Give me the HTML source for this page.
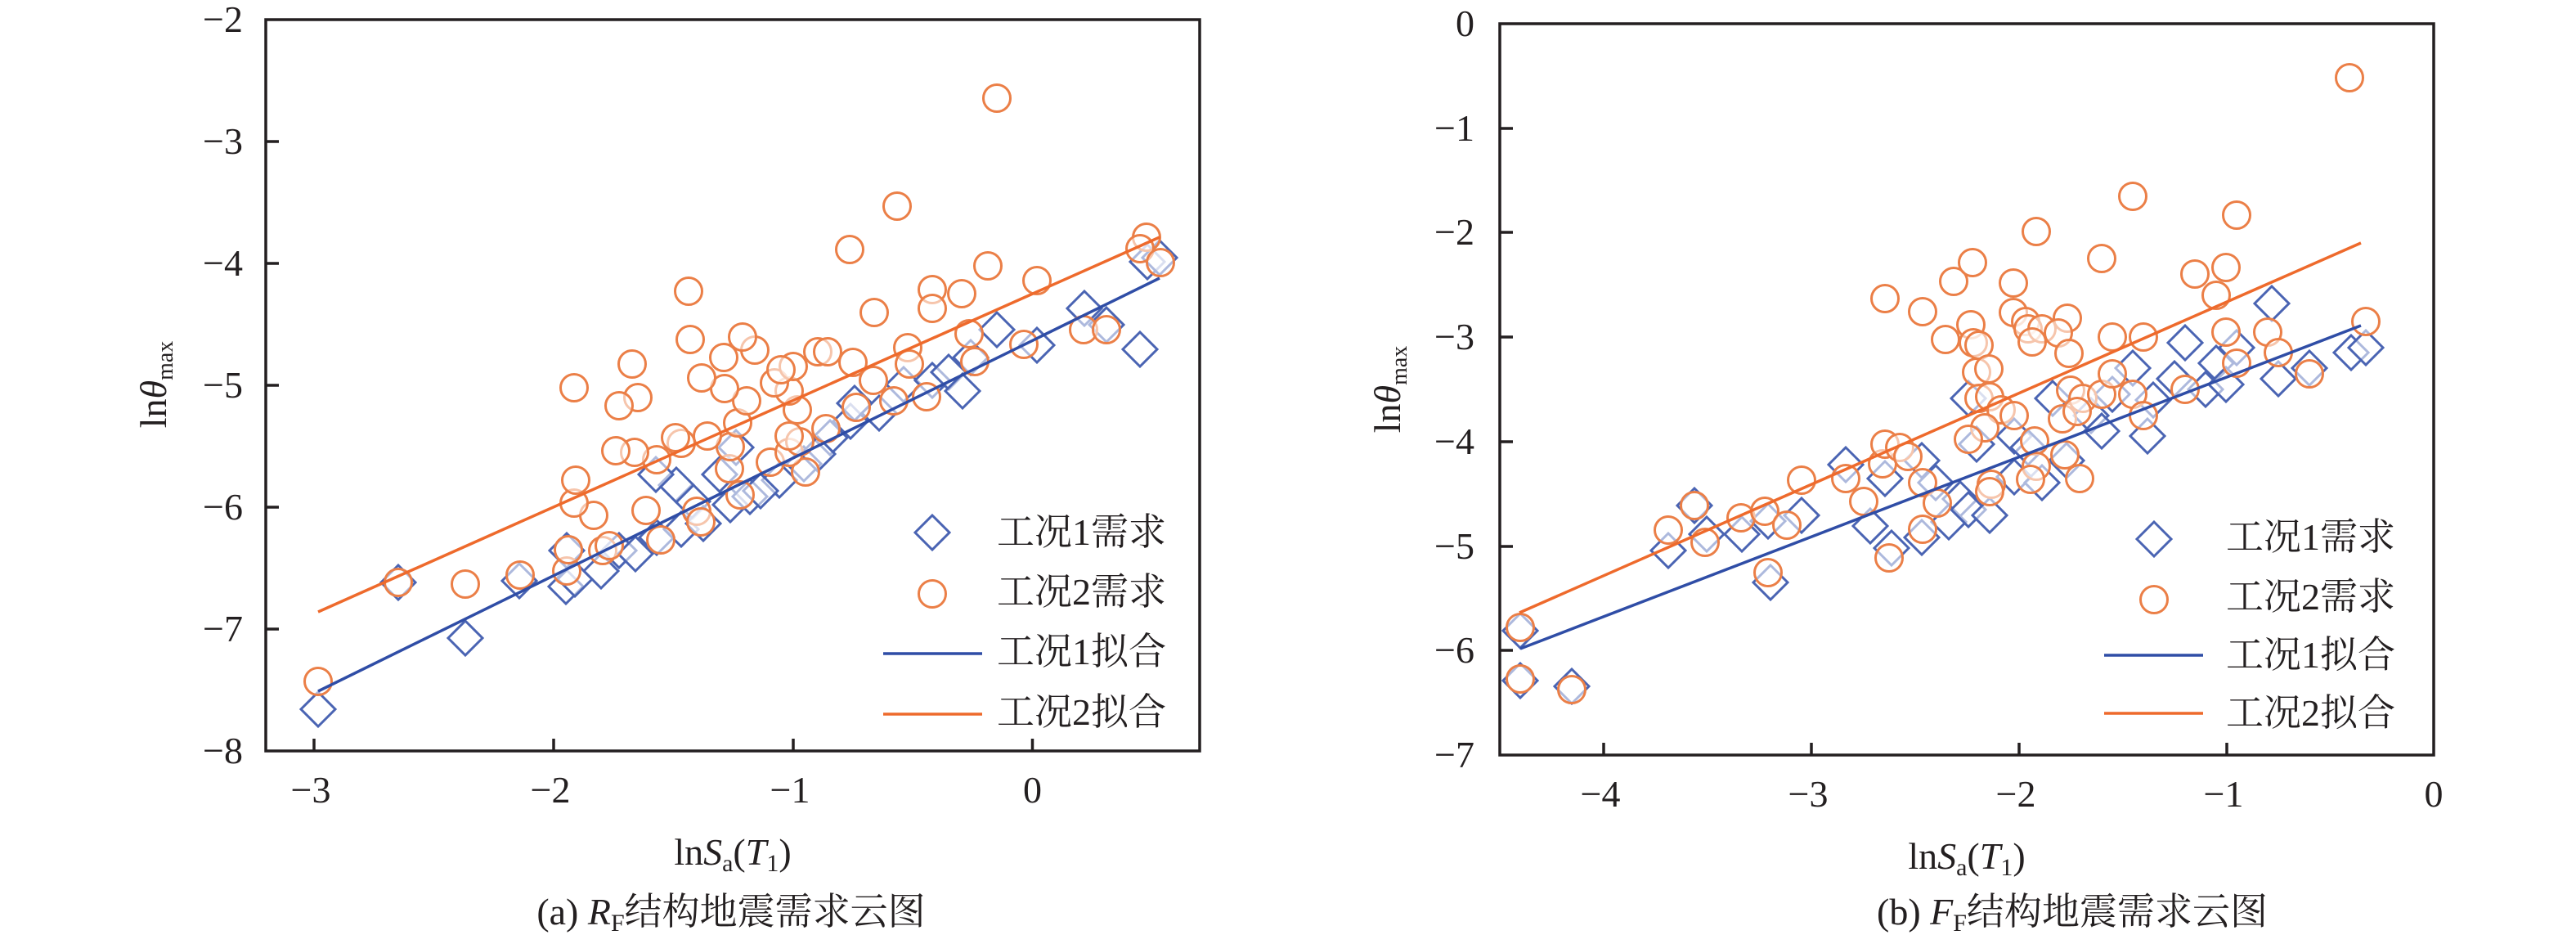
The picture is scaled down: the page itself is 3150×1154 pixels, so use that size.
<!DOCTYPE html>
<html><head><meta charset="utf-8"><style>
html,body{margin:0;padding:0;background:#fff;}
svg{display:block;}
text{font-family:"Liberation Serif","Noto Serif CJK SC",serif;fill:#231F20;}
.cjk{font-family:"Liberation Serif","Noto Serif CJK SC",serif;}
</style></head><body>
<svg width="3150" height="1154" viewBox="0 0 3150 1154" xmlns="http://www.w3.org/2000/svg">
<defs>
<path id="d" d="M0,-21L21,0L0,21L-21,0Z" fill="#fff" fill-opacity="0.55" stroke="#4A64B3" stroke-width="3"/>
<circle id="c" r="16.5" fill="#fff" fill-opacity="0.55" stroke="#EB7F47" stroke-width="3"/>
</defs>
<rect width="3150" height="1154" fill="#fff"/>

<!-- ================= LEFT PLOT ================= -->
<g>
<!-- diamonds -->
<use href="#d" x="389" y="867"/><use href="#d" x="487" y="712"/><use href="#d" x="569" y="780"/><use href="#d" x="635" y="710"/><use href="#d" x="692" y="717"/><use href="#d" x="703" y="708"/><use href="#d" x="693" y="673"/><use href="#d" x="735" y="698"/><use href="#d" x="757" y="673"/><use href="#d" x="777" y="677"/><use href="#d" x="803" y="657"/><use href="#d" x="833" y="647"/><use href="#d" x="847" y="613"/><use href="#d" x="827" y="593"/><use href="#d" x="802" y="580"/><use href="#d" x="893" y="617"/><use href="#d" x="917" y="607"/><use href="#d" x="880" y="580"/><use href="#d" x="900" y="547"/><use href="#d" x="953" y="587"/><use href="#d" x="983" y="567"/><use href="#d" x="1015" y="535"/><use href="#d" x="1040" y="515"/><use href="#d" x="1045" y="493"/><use href="#d" x="1075" y="505"/><use href="#d" x="1105" y="470"/><use href="#d" x="1140" y="465"/><use href="#d" x="1160" y="455"/><use href="#d" x="1177" y="478"/><use href="#d" x="1187" y="437"/><use href="#d" x="1219" y="403"/><use href="#d" x="1268" y="422"/><use href="#d" x="1326" y="377"/><use href="#d" x="1353" y="397"/><use href="#d" x="1394" y="427"/><use href="#d" x="1403" y="320"/><use href="#d" x="1418" y="315"/><use href="#d" x="860" y="640"/><use href="#d" x="930" y="600"/><use href="#d" x="1000" y="555"/>
<!-- circles -->
<use href="#c" x="389" y="833"/><use href="#c" x="487" y="712"/><use href="#c" x="569" y="714"/><use href="#c" x="636" y="703"/><use href="#c" x="693" y="698"/><use href="#c" x="695" y="672"/><use href="#c" x="737" y="673"/><use href="#c" x="745" y="667"/><use href="#c" x="808" y="660"/><use href="#c" x="852" y="625"/><use href="#c" x="857" y="638"/><use href="#c" x="790" y="624"/><use href="#c" x="726" y="630"/><use href="#c" x="702" y="615"/><use href="#c" x="704" y="587"/><use href="#c" x="905" y="605"/><use href="#c" x="985" y="577"/><use href="#c" x="892" y="573"/><use href="#c" x="942" y="565"/><use href="#c" x="965" y="553"/><use href="#c" x="978" y="540"/><use href="#c" x="965" y="533"/><use href="#c" x="893" y="546"/><use href="#c" x="865" y="533"/><use href="#c" x="833" y="542"/><use href="#c" x="826" y="535"/><use href="#c" x="803" y="562"/><use href="#c" x="776" y="553"/><use href="#c" x="753" y="551"/><use href="#c" x="902" y="517"/><use href="#c" x="975" y="501"/><use href="#c" x="913" y="490"/><use href="#c" x="965" y="478"/><use href="#c" x="947" y="468"/><use href="#c" x="970" y="448"/><use href="#c" x="955" y="452"/><use href="#c" x="1000" y="430"/><use href="#c" x="886" y="475"/><use href="#c" x="858" y="462"/><use href="#c" x="885" y="437"/><use href="#c" x="923" y="428"/><use href="#c" x="908" y="412"/><use href="#c" x="844" y="415"/><use href="#c" x="773" y="445"/><use href="#c" x="780" y="486"/><use href="#c" x="757" y="496"/><use href="#c" x="702" y="474"/><use href="#c" x="842" y="356"/><use href="#c" x="1010" y="524"/><use href="#c" x="1012" y="430"/><use href="#c" x="1043" y="443"/><use href="#c" x="1068" y="465"/><use href="#c" x="1047" y="498"/><use href="#c" x="1093" y="490"/><use href="#c" x="1133" y="485"/><use href="#c" x="1110" y="425"/><use href="#c" x="1112" y="445"/><use href="#c" x="1185" y="408"/><use href="#c" x="1192" y="442"/><use href="#c" x="1252" y="421"/><use href="#c" x="1325" y="403"/><use href="#c" x="1353" y="403"/><use href="#c" x="1069" y="382"/><use href="#c" x="1140" y="354"/><use href="#c" x="1140" y="377"/><use href="#c" x="1176" y="359"/><use href="#c" x="1039" y="305"/><use href="#c" x="1097" y="252"/><use href="#c" x="1208" y="325"/><use href="#c" x="1268" y="343"/><use href="#c" x="1402" y="290"/><use href="#c" x="1394" y="304"/><use href="#c" x="1419" y="321"/><use href="#c" x="1219" y="120"/>
<!-- fit lines -->
<line x1="389" y1="845" x2="1418" y2="340" stroke="#2F4DA6" stroke-width="3.5"/>
<line x1="389" y1="748" x2="1418" y2="290" stroke="#EE6A2C" stroke-width="3.5"/>

<!-- frame -->
<rect x="325" y="24" width="1142" height="894" fill="none" stroke="#231F20" stroke-width="3.5"/>
<!-- y ticks -->
<g stroke="#231F20" stroke-width="3.5">
<line x1="325" y1="173" x2="341" y2="173"/><line x1="325" y1="322" x2="341" y2="322"/><line x1="325" y1="471" x2="341" y2="471"/><line x1="325" y1="620" x2="341" y2="620"/><line x1="325" y1="769" x2="341" y2="769"/>
<line x1="384" y1="918" x2="384" y2="903"/><line x1="677" y1="918" x2="677" y2="903"/><line x1="970" y1="918" x2="970" y2="903"/><line x1="1262.5" y1="918" x2="1262.5" y2="903"/>
</g>
<g font-size="46" text-anchor="end">
<text x="297" y="39">−2</text><text x="297" y="188">−3</text><text x="297" y="337">−4</text><text x="297" y="486">−5</text><text x="297" y="635">−6</text><text x="297" y="784">−7</text><text x="297" y="933">−8</text>
</g>
<g font-size="46" text-anchor="middle">
<text x="380" y="981">−3</text><text x="673" y="981">−2</text><text x="966" y="981">−1</text><text x="1262.5" y="981">0</text>
</g>
<!-- axis labels -->
<text x="896" y="1057" font-size="46" text-anchor="middle">ln<tspan font-style="italic">S</tspan><tspan font-size="30" dy="8">a</tspan><tspan dy="-8">(</tspan><tspan font-style="italic">T</tspan><tspan font-size="30" dy="8">1</tspan><tspan dy="-8">)</tspan></text>
<text transform="translate(203,470) rotate(-90)" font-size="46" text-anchor="middle">ln<tspan font-style="italic">θ</tspan><tspan font-size="28" dy="8">max</tspan></text>
<!-- legend -->
<use href="#d" x="1140" y="651"/>
<use href="#c" x="1140" y="726"/>
<line x1="1080" y1="799" x2="1201" y2="799" stroke="#2F4DA6" stroke-width="3.5"/>
<line x1="1080" y1="873" x2="1201" y2="873" stroke="#EE6A2C" stroke-width="3.5"/>
<g font-size="46" class="cjk">
<text x="1219" y="666">工况1需求</text>
<text x="1219" y="739">工况2需求</text>
<text x="1219" y="812">工况1拟合</text>
<text x="1219" y="886">工况2拟合</text>
</g>
<!-- caption -->
<text x="894" y="1130" font-size="46" text-anchor="middle" class="cjk">(a) <tspan font-style="italic">R</tspan><tspan font-size="30" dy="8">F</tspan><tspan dy="-8">结构地震需求云图</tspan></text>
</g>

<!-- ================= RIGHT PLOT ================= -->
<g>
<use href="#d" x="1859" y="771"/><use href="#d" x="1859" y="832"/><use href="#d" x="1922" y="839"/><use href="#d" x="2040" y="673"/><use href="#d" x="2072" y="618"/><use href="#d" x="2087" y="653"/><use href="#d" x="2130" y="653"/><use href="#d" x="2162" y="637"/><use href="#d" x="2165" y="712"/><use href="#d" x="2203" y="630"/><use href="#d" x="2257" y="568"/><use href="#d" x="2287" y="643"/><use href="#d" x="2305" y="585"/><use href="#d" x="2313" y="670"/><use href="#d" x="2350" y="563"/><use href="#d" x="2350" y="657"/><use href="#d" x="2367" y="590"/><use href="#d" x="2383" y="638"/><use href="#d" x="2397" y="610"/><use href="#d" x="2407" y="623"/><use href="#d" x="2407" y="487"/><use href="#d" x="2417" y="543"/><use href="#d" x="2433" y="630"/><use href="#d" x="2463" y="533"/><use href="#d" x="2480" y="547"/><use href="#d" x="2463" y="583"/><use href="#d" x="2497" y="590"/><use href="#d" x="2527" y="563"/><use href="#d" x="2510" y="487"/><use href="#d" x="2557" y="508"/><use href="#d" x="2583" y="482"/><use href="#d" x="2570" y="527"/><use href="#d" x="2608" y="450"/><use href="#d" x="2626" y="533"/><use href="#d" x="2633" y="489"/><use href="#d" x="2659" y="463"/><use href="#d" x="2672" y="419"/><use href="#d" x="2697" y="476"/><use href="#d" x="2710" y="444"/><use href="#d" x="2722" y="470"/><use href="#d" x="2735" y="425"/><use href="#d" x="2778" y="371"/><use href="#d" x="2786" y="463"/><use href="#d" x="2824" y="450"/><use href="#d" x="2875" y="431"/><use href="#d" x="2893" y="425"/>

<use href="#c" x="1859" y="767"/><use href="#c" x="1859" y="830"/><use href="#c" x="1922" y="843"/><use href="#c" x="2040" y="648"/><use href="#c" x="2072" y="618"/><use href="#c" x="2085" y="663"/><use href="#c" x="2129" y="633"/><use href="#c" x="2158" y="625"/><use href="#c" x="2185" y="642"/><use href="#c" x="2162" y="700"/><use href="#c" x="2203" y="587"/><use href="#c" x="2257" y="585"/><use href="#c" x="2279" y="613"/><use href="#c" x="2302" y="567"/><use href="#c" x="2305" y="543"/><use href="#c" x="2323" y="547"/><use href="#c" x="2333" y="558"/><use href="#c" x="2351" y="590"/><use href="#c" x="2369" y="615"/><use href="#c" x="2351" y="647"/><use href="#c" x="2310" y="682"/><use href="#c" x="2305" y="365"/><use href="#c" x="2351" y="381"/><use href="#c" x="2379" y="415"/><use href="#c" x="2389" y="344"/><use href="#c" x="2412" y="321"/><use href="#c" x="2410" y="397"/><use href="#c" x="2413" y="419"/><use href="#c" x="2420" y="422"/><use href="#c" x="2462" y="346"/><use href="#c" x="2462" y="382"/><use href="#c" x="2477" y="393"/><use href="#c" x="2480" y="402"/><use href="#c" x="2497" y="402"/><use href="#c" x="2485" y="418"/><use href="#c" x="2528" y="389"/><use href="#c" x="2517" y="407"/><use href="#c" x="2530" y="432"/><use href="#c" x="2490" y="283"/><use href="#c" x="2417" y="455"/><use href="#c" x="2432" y="451"/><use href="#c" x="2420" y="487"/><use href="#c" x="2433" y="485"/><use href="#c" x="2532" y="477"/><use href="#c" x="2547" y="487"/><use href="#c" x="2447" y="501"/><use href="#c" x="2463" y="508"/><use href="#c" x="2427" y="523"/><use href="#c" x="2407" y="537"/><use href="#c" x="2522" y="512"/><use href="#c" x="2540" y="503"/><use href="#c" x="2488" y="539"/><use href="#c" x="2525" y="556"/><use href="#c" x="2490" y="570"/><use href="#c" x="2483" y="586"/><use href="#c" x="2435" y="592"/><use href="#c" x="2433" y="601"/><use href="#c" x="2543" y="585"/><use href="#c" x="2570" y="316"/><use href="#c" x="2608" y="240"/><use href="#c" x="2583" y="412"/><use href="#c" x="2570" y="482"/><use href="#c" x="2608" y="482"/><use href="#c" x="2621" y="412"/><use href="#c" x="2621" y="508"/><use href="#c" x="2672" y="476"/><use href="#c" x="2684" y="335"/><use href="#c" x="2710" y="361"/><use href="#c" x="2722" y="327"/><use href="#c" x="2735" y="263"/><use href="#c" x="2722" y="406"/><use href="#c" x="2735" y="444"/><use href="#c" x="2773" y="406"/><use href="#c" x="2786" y="431"/><use href="#c" x="2824" y="457"/><use href="#c" x="2893" y="393"/><use href="#c" x="2873" y="95"/><use href="#c" x="2583" y="457"/>

<line x1="1859" y1="793" x2="2887" y2="398" stroke="#2F4DA6" stroke-width="3.5"/>
<line x1="1858" y1="749" x2="2887" y2="297" stroke="#EE6A2C" stroke-width="3.5"/>

<rect x="1834" y="29" width="1142" height="894" fill="none" stroke="#231F20" stroke-width="3.5"/>
<g stroke="#231F20" stroke-width="3.5">
<line x1="1834" y1="157" x2="1850" y2="157"/><line x1="1834" y1="284" x2="1850" y2="284"/><line x1="1834" y1="412" x2="1850" y2="412"/><line x1="1834" y1="540" x2="1850" y2="540"/><line x1="1834" y1="668" x2="1850" y2="668"/><line x1="1834" y1="795" x2="1850" y2="795"/>
<line x1="1961" y1="923" x2="1961" y2="908"/><line x1="2215" y1="923" x2="2215" y2="908"/><line x1="2469" y1="923" x2="2469" y2="908"/><line x1="2723" y1="923" x2="2723" y2="908"/>
</g>
<g font-size="46" text-anchor="end">
<text x="1803" y="44">0</text><text x="1803" y="172">−1</text><text x="1803" y="299">−2</text><text x="1803" y="427">−3</text><text x="1803" y="555">−4</text><text x="1803" y="683">−5</text><text x="1803" y="810">−6</text><text x="1803" y="938">−7</text>
</g>
<g font-size="46" text-anchor="middle">
<text x="1957" y="986">−4</text><text x="2211" y="986">−3</text><text x="2465" y="986">−2</text><text x="2719" y="986">−1</text><text x="2976" y="986">0</text>
</g>
<text x="2405" y="1062" font-size="46" text-anchor="middle">ln<tspan font-style="italic">S</tspan><tspan font-size="30" dy="8">a</tspan><tspan dy="-8">(</tspan><tspan font-style="italic">T</tspan><tspan font-size="30" dy="8">1</tspan><tspan dy="-8">)</tspan></text>
<text transform="translate(1712,476) rotate(-90)" font-size="46" text-anchor="middle">ln<tspan font-style="italic">θ</tspan><tspan font-size="28" dy="8">max</tspan></text>

<use href="#d" x="2634" y="659"/>
<use href="#c" x="2634" y="733"/>
<line x1="2573" y1="801" x2="2694" y2="801" stroke="#2F4DA6" stroke-width="3.5"/>
<line x1="2573" y1="872" x2="2694" y2="872" stroke="#EE6A2C" stroke-width="3.5"/>
<g font-size="46" class="cjk">
<text x="2722" y="672">工况1需求</text>
<text x="2722" y="745">工况2需求</text>
<text x="2722" y="816">工况1拟合</text>
<text x="2722" y="887">工况2拟合</text>
</g>
<text x="2534" y="1130" font-size="46" text-anchor="middle" class="cjk">(b) <tspan font-style="italic">F</tspan><tspan font-size="30" dy="8">F</tspan><tspan dy="-8">结构地震需求云图</tspan></text>
</g>
</svg>
</body></html>
